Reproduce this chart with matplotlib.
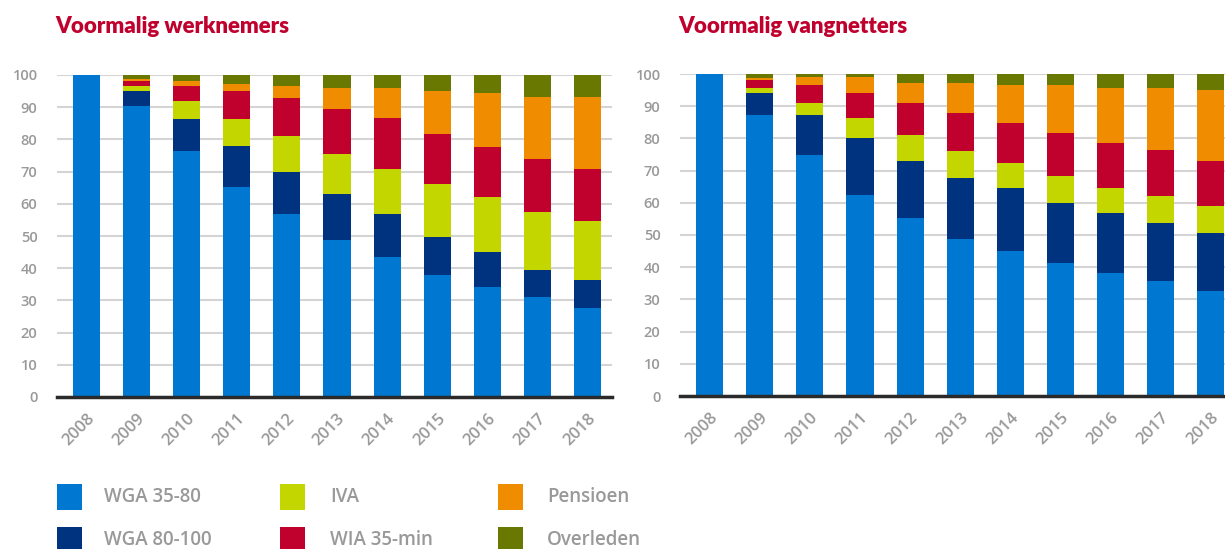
import matplotlib.pyplot as plt
from matplotlib.patches import Rectangle

years = ['2008', '2009', '2010', '2011', '2012', '2013', '2014', '2015', '2016', '2017', '2018']
series_names = ['WGA 35-80', 'WGA 80-100', 'IVA', 'WIA 35-min', 'Pensioen', 'Overleden']

# Voormalig werknemers (percentages)
wn_wga3580 = [100, 90.4, 76.4, 65.2, 56.8, 48.7, 43.4, 37.8, 34.1, 31.0, 27.6]
wn_wga80100 = [0, 4.6, 9.9, 12.7, 13.0, 14.3, 13.4, 11.8, 10.9, 8.4, 8.7]
wn_iva = [0, 1.6, 5.6, 8.4, 11.2, 12.4, 14.0, 16.5, 17.1, 18.0, 18.3]
wn_wia35min = [0, 1.5, 4.7, 8.7, 11.8, 14.0, 15.8, 15.6, 15.5, 16.5, 16.2]
wn_pensioen = [0, 0.7, 1.5, 2.2, 3.8, 6.6, 9.4, 13.3, 16.8, 19.3, 22.4]
wn_overleden = [0, 1.2, 1.9, 2.8, 3.4, 4.0, 4.0, 5.0, 5.6, 6.8, 6.8]

# Voormalig vangnetters (percentages)
vn_wga3580 = [100, 87.3, 74.8, 62.4, 55.3, 48.8, 45.0, 41.3, 38.2, 35.7, 32.6]
vn_wga80100 = [0, 6.8, 12.5, 17.7, 17.7, 18.9, 19.6, 18.6, 18.6, 18.0, 18.0]
vn_iva = [0, 1.6, 3.7, 6.2, 8.1, 8.4, 7.8, 8.4, 7.8, 8.4, 8.4]
vn_wia35min = [0, 2.4, 5.6, 7.8, 9.9, 11.8, 12.4, 13.4, 14.0, 14.3, 14.0]
vn_pensioen = [0, 0.7, 2.5, 5.0, 6.2, 9.3, 11.8, 14.9, 17.1, 19.3, 22.0]
vn_overleden = [0, 1.2, 0.9, 0.9, 2.8, 2.8, 3.4, 3.4, 4.3, 4.3, 5.0]

colors = ['#0078d2', '#00337f', '#c4d600', '#c0002d', '#f08c00', '#697800']
title_color = '#c0002d'
text_gray = '#999999'

W, H = 1225, 549
plt.rcParams['font.family'] = ['Open Sans', 'DejaVu Sans']
plt.rcParams['font.weight'] = 'semibold'
fig = plt.figure(figsize=(W / 100, H / 100), dpi=100)


def px_axes(x0, y0, x1, y1):
    # pixel box (top-left origin) -> figure axes
    return fig.add_axes([x0 / W, 1 - y1 / H, (x1 - x0) / W, (y1 - y0) / H])


def stacked(ax, parts, xlim_right):
    bottom = [0] * len(years)
    xs = range(len(years))
    for vals, c in zip(parts, colors):
        ax.bar(xs, vals, width=0.54, bottom=bottom, color=c, zorder=2)
        bottom = [b + v for b, v in zip(bottom, vals)]

    ax.set_xlim(-0.59, xlim_right)
    ax.set_ylim(0, 100)
    ax.set_yticks(range(0, 101, 10))
    ax.set_xticks(list(xs))
    ax.set_xticklabels(years, rotation=45, ha='right', va='top',
                       rotation_mode='anchor', fontsize=12, color=text_gray)
    ax.tick_params(axis='x', length=0, pad=10)
    ax.tick_params(axis='y', length=0, pad=14, labelsize=10.5, labelcolor=text_gray)
    ax.grid(axis='y', color='#d4d4d4', lw=1.5, zorder=0)
    for s in ['top', 'right', 'left']:
        ax.spines[s].set_visible(False)
    ax.spines['bottom'].set_color('#2a2a2a')
    ax.spines['bottom'].set_linewidth(2.5)
    ax.spines['bottom'].set_zorder(3)


ax1 = px_axes(57, 75, 612, 397)
stacked(ax1, [wn_wga3580, wn_wga80100, wn_iva, wn_wia35min, wn_pensioen, wn_overleden], 10.49)

ax2 = px_axes(680, 74, 1225, 396)
stacked(ax2, [vn_wga3580, vn_wga80100, vn_iva, vn_wia35min, vn_pensioen, vn_overleden], 10.28)

# titles
title_font = dict(family=['Lato', 'DejaVu Sans'], weight='heavy',
                  fontsize=16, color=title_color, va='baseline', ha='left')
fig.text(55 / W, 1 - 33 / H, 'Voormalig werknemers', **title_font)
fig.text(678 / W, 1 - 33 / H, 'Voormalig vangnetters', **title_font)

# legend, three columns of two
col_x = [57, 280, 498]
text_x = [104, 330, 547]
row_y = [484, 527]
for i, (name, c) in enumerate(zip(series_names, colors)):
    col, row = i // 2, i % 2
    x, y = col_x[col], row_y[row]
    fig.add_artist(Rectangle((x / W, 1 - (y + 26) / H), 25 / W, 26 / H,
                             transform=fig.transFigure, color=c, lw=0))
    fig.text(text_x[col] / W, 1 - (y + 13) / H, name, fontsize=13.5,
             color=text_gray, va='center', ha='left')

fig.savefig('out.png', dpi=100)
